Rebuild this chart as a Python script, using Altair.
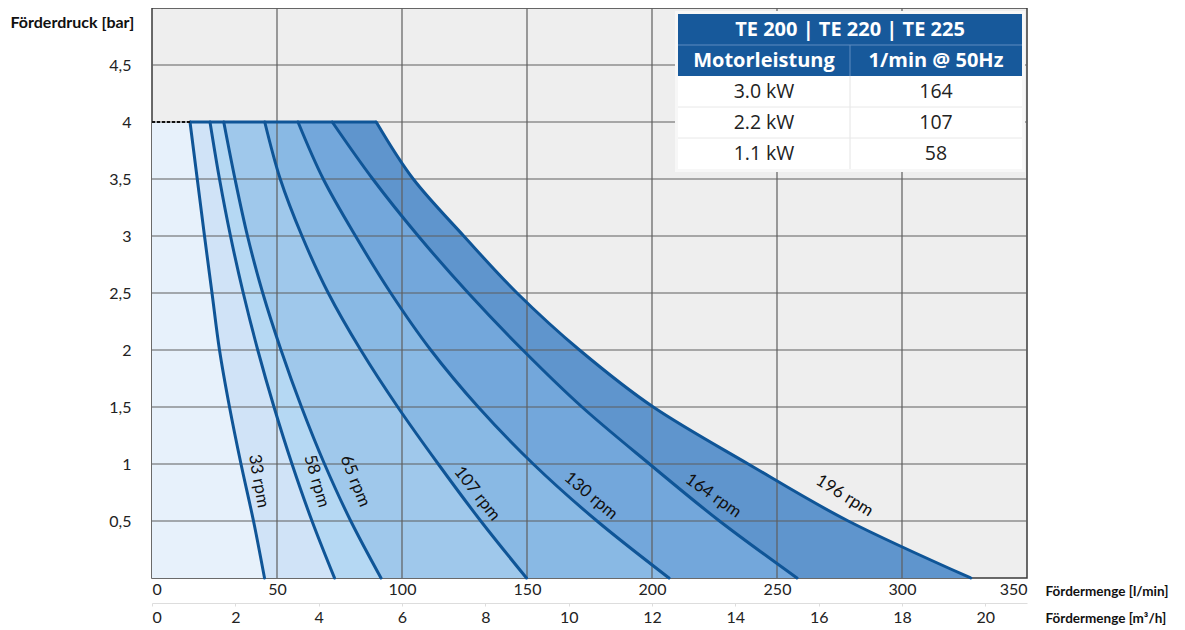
import altair as alt
import pandas as pd

# ---------------- data ----------------
pressure = [0, 0.5, 1, 1.5, 2, 2.5, 3, 3.5, 4]
rpm_names = ["33 rpm", "58 rpm", "65 rpm", "107 rpm", "130 rpm", "164 rpm", "196 rpm"]
flow_33 = [45.0, 40.6, 35.6, 31.0, 27.0, 24.0, 21.0, 18.1, 15.2]
flow_58 = [73.0, 64.0, 56.0, 48.8, 42.3, 36.5, 31.4, 27.0, 23.2]
flow_65 = [91.6, 79.5, 69.0, 59.8, 51.6, 44.3, 38.2, 33.2, 28.7]
flow_107 = [149.8, 131.5, 114.5, 98.3, 83.5, 70.5, 60.0, 51.3, 45.1]
flow_130 = [206.8, 178.0, 152.5, 130.5, 111.5, 95.5, 81.4, 68.5, 58.4]
flow_164 = [258.0, 227.0, 199.0, 172.0, 148.3, 126.5, 106.5, 88.3, 72.1]
flow_196 = [327.5, 278.5, 238.5, 200.5, 171.0, 146.0, 124.7, 104.5, 89.7]
curves = [flow_33, flow_58, flow_65, flow_107, flow_130, flow_164, flow_196]

label_flow = [42.6, 65.8, 81.2, 130.0, 175.5, 224.5, 277.0]
label_pressure = [0.85, 0.85, 0.85, 0.74, 0.72, 0.72, 0.72]
label_angle = [80, 74, 68, 52, 40, 35, 32]

x_ticks = [0, 50, 100, 150, 200, 250, 300, 350]
x_grid = [50, 100, 150, 200, 250, 300]
m3h_ticks = [0, 2, 4, 6, 8, 10, 12, 14, 16, 18, 20]
y_ticks = [0.5, 1, 1.5, 2, 2.5, 3, 3.5, 4, 4.5]
max_pressure = 4

table_title = "TE 200 | TE 220 | TE 225"
table_headers = ["Motorleistung", "1/min @ 50Hz"]
motor_power = ["3.0 kW", "2.2 kW", "1.1 kW"]
rpm_at_50hz = ["164", "107", "58"]

# ---------------- styles ----------------
COND = "Lato, 'Noto Sans', sans-serif"
TFONT = "'Open Sans', 'Noto Sans', sans-serif"
band_colors = ["#e7f1fb", "#d0e3f7", "#b5d8f3", "#9fc8eb", "#89b9e4", "#73a7db", "#5f95cd"]
line_color = "#0f5597"
grid_color = "#5e5e5e"
head_color = "#17599b"

W, H = 875, 570

xscale = alt.Scale(domain=[0, 350], nice=False, zero=False)
yscale = alt.Scale(domain=[0, 5], nice=False)
xaxis = alt.Axis(values=x_ticks, grid=False, ticks=False, domain=False, labelFont=COND,
                 labelFontSize=16, labelColor="#222222", labelPadding=3, labelFlush=True,
                 title="Fördermenge [l/min]", titleX=893, titleY=13, titleAlign="left",
                 titleBaseline="middle", titleFont=COND, titleFontSize=13.5,
                 titleFontWeight="bold", titleColor="#111111")
yaxis = alt.Axis(values=y_ticks, grid=False, ticks=False, domain=False, labelFont=COND,
                 labelFontSize=16, labelColor="#222222", labelPadding=21,
                 labelExpr="replace(toString(datum.value), '.', ',')",
                 title="Förderdruck [bar]", titleAngle=0, titleX=-142, titleY=14,
                 titleAlign="left", titleBaseline="middle", titleFont=COND,
                 titleFontSize=16, titleFontWeight="bold", titleColor="#111111")


def X(field):
    return alt.X(field, type="quantitative", scale=xscale, axis=xaxis)


def X2(field):
    return alt.X2(field)


def Y(field):
    return alt.Y(field, type="quantitative", scale=yscale, axis=yaxis)


# bands
band_rows = []
for b in range(len(curves)):
    left = [0.0] * len(pressure) if b == 0 else curves[b - 1]
    right = curves[b]
    for p, l, r in zip(pressure, left, right):
        band_rows.append({"p": p, "left": l, "right": r, "band": b})
band_df = pd.DataFrame(band_rows)

bands = alt.Chart(band_df).mark_area(orient="horizontal", interpolate="monotone").encode(
    y=Y("p"), x=X("left"), x2=X2("right"),
    color=alt.Color("band:N", scale=alt.Scale(domain=list(range(len(curves))), range=band_colors), legend=None),
)

# grid
xgrid = alt.Chart(pd.DataFrame({"v": x_grid})).mark_rule(color=grid_color, strokeWidth=1.2).encode(x=X("v"))
ygrid = alt.Chart(pd.DataFrame({"v": y_ticks})).mark_rule(color=grid_color, strokeWidth=1.2).encode(y=Y("v"))

# curve strokes
curve_rows = []
for name, c in zip(rpm_names, curves):
    for p, f in zip(pressure, c):
        curve_rows.append({"p": p, "f": f, "curve": name})
curve_df = pd.DataFrame(curve_rows)
lines = alt.Chart(curve_df).mark_area(orient="horizontal", interpolate="monotone", fillOpacity=0,
                                      stroke=line_color, strokeWidth=3, strokeJoin="round").encode(
    y=Y("p"), x=X("f"), x2=X2("f"), detail="curve:N")

top_df = pd.DataFrame({"a": [flow_33[-1]], "b": [flow_196[-1]], "z": [0.0], "p": [max_pressure]})
top_line = alt.Chart(top_df).mark_rule(color=line_color, strokeWidth=3).encode(x=X("a"), x2=X2("b"), y=Y("p"))
dotted = alt.Chart(top_df).mark_rule(color="#111111", strokeWidth=2, strokeDash=[3, 2]).encode(
    x=X("z"), x2=X2("a"), y=Y("p"))

lab_df = pd.DataFrame({"t": rpm_names, "f": label_flow, "p": label_pressure, "a": label_angle})
labels = alt.Chart(lab_df).mark_text(font=COND, fontSize=17, color="#111111", align="center",
                                     baseline="middle").encode(
    x=X("f"), y=Y("p"), text="t:N", angle=alt.Angle("a:Q", scale=None))

# ---------------- table (pixel layout inside plot area) ----------------
TL, TR, TT, RH = 526, 870, 6, 31
TM = (TL + TR) / 2
c1, c2 = (TL + TM) / 2, (TM + TR) / 2
one = pd.DataFrame({"a": [0]})
t_border = alt.Chart(one).mark_rect(fill="#f7f7f7").encode(
    x=alt.value(TL - 3), x2=alt.value(TR + 3), y=alt.value(TT - 3), y2=alt.value(TT + 5 * RH + 3))
t_head = alt.Chart(one).mark_rect(fill=head_color).encode(
    x=alt.value(TL), x2=alt.value(TR), y=alt.value(TT), y2=alt.value(TT + 2 * RH))
t_body = alt.Chart(one).mark_rect(fill="#ffffff").encode(
    x=alt.value(TL), x2=alt.value(TR), y=alt.value(TT + 2 * RH), y2=alt.value(TT + 5 * RH))
t_hsep = alt.Chart(one).mark_rule(color="#5f8cc0", strokeWidth=1).encode(
    x=alt.value(TL), x2=alt.value(TR), y=alt.value(TT + RH))
t_vsep1 = alt.Chart(one).mark_rule(color="#5f8cc0", strokeWidth=1).encode(
    x=alt.value(TM), y=alt.value(TT + RH), y2=alt.value(TT + 2 * RH))
t_vsep2 = alt.Chart(one).mark_rule(color="#e4e4e4", strokeWidth=1).encode(
    x=alt.value(TM), y=alt.value(TT + 2 * RH), y2=alt.value(TT + 5 * RH))
sep_df = pd.DataFrame({"py": [TT + 3 * RH, TT + 4 * RH]})
t_bsep = alt.Chart(sep_df).mark_rule(color="#e8e8e8", strokeWidth=1).encode(
    x=alt.value(TL), x2=alt.value(TR), y=alt.Y("py:Q", scale=None))

head_df = pd.DataFrame({"t": [table_title] + table_headers,
                        "px": [TM, c1, c2],
                        "py": [TT + RH / 2, TT + 1.5 * RH, TT + 1.5 * RH]})
t_head_text = alt.Chart(head_df).mark_text(font=TFONT, fontSize=20, fontWeight="bold", color="#ffffff",
                                           align="center", baseline="middle").encode(
    x=alt.X("px:Q", scale=None), y=alt.Y("py:Q", scale=None), text="t:N")
body_rows = []
for i, (mp, rp) in enumerate(zip(motor_power, rpm_at_50hz)):
    body_rows.append({"t": mp, "px": c1, "py": TT + (2.5 + i) * RH})
    body_rows.append({"t": rp, "px": c2, "py": TT + (2.5 + i) * RH})
t_body_text = alt.Chart(pd.DataFrame(body_rows)).mark_text(font=TFONT, fontSize=19.5, color="#222222",
                                                           align="center", baseline="middle").encode(
    x=alt.X("px:Q", scale=None), y=alt.Y("py:Q", scale=None), text="t:N")

main = alt.layer(bands, xgrid, ygrid, lines, top_line, dotted, labels,
                 t_border, t_head, t_body, t_hsep, t_vsep1, t_vsep2, t_bsep, t_head_text, t_body_text)

m3h = alt.Chart(pd.DataFrame({"m": m3h_ticks})).mark_point(opacity=0).encode(
    x=alt.X("m:Q", scale=alt.Scale(domain=[0, 21], nice=False, zero=False),
            axis=alt.Axis(orient="bottom", offset=25, values=m3h_ticks, grid=False,
                          domainColor="#dddddd", tickColor="#dddddd", tickSize=3,
                          labelFont=COND, labelFontSize=16, labelColor="#222222", labelPadding=3,
                          title="Fördermenge [m³/h]", titleX=893, titleY=15, titleAlign="left",
                          titleBaseline="middle", titleFont=COND, titleFontSize=13.5,
                          titleFontWeight="bold", titleColor="#111111")))

chart = alt.layer(main, m3h).resolve_scale(x="independent").properties(
    width=W, height=H,
    autosize=alt.AutoSizeParams(type="none"),
    padding={"left": 144, "top": 0, "right": 150, "bottom": 52},
    background="#ffffff",
).configure_view(fill="#eeeeee", stroke="#3a3a3a", strokeWidth=1.5)

chart.save("out.html", embed_options={"renderer": "svg", "actions": False})
